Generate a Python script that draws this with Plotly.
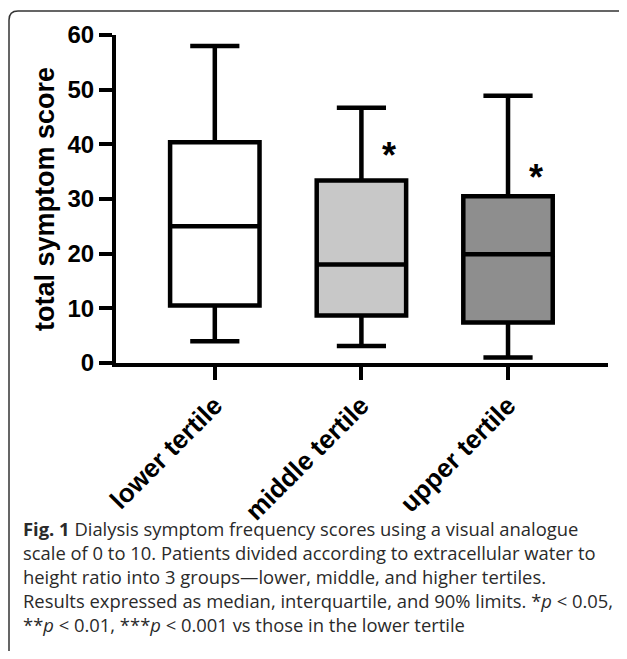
import plotly.graph_objects as go

# ---- data ----
categories = ["lower tertile", "middle tertile", "upper tertile"]
lower_fence = [4.0, 3.1, 1.0]
q1_vals = [10.5, 8.7, 7.4]
median_vals = [25.0, 18.0, 19.9]
q3_vals = [40.4, 33.4, 30.5]
upper_fence = [58.0, 46.7, 48.9]
fill_colors = ["#ffffff", "#c8c8c8", "#8e8e8e"]
sig_marks = ["", "*", "*"]
sig_y = [None, 39.6, 35.6]
y_ticks = [0, 10, 20, 30, 40, 50, 60]

caption_lines = [
    "<b>Fig. 1</b> Dialysis symptom frequency scores using a visual analogue",
    "scale of 0 to 10. Patients divided according to extracellular water to",
    "height ratio into 3 groups\u2014lower, middle, and higher tertiles.",
    "Results expressed as median, interquartile, and 90% limits. *<i>p</i> &lt; 0.05,",
    "**<i>p</i> &lt; 0.01, ***<i>p</i> &lt; 0.001 vs those in the lower tertile",
]

# page body has an 8px margin; the figure is laid out in window pixels minus it
OFF = 8
W, H = 627 - 2 * OFF, 659 - 2 * OFF
PLOT_L, PLOT_R, PLOT_T, PLOT_B = 116, 608, 35, 363   # window pixels
ML, MT = PLOT_L - OFF, PLOT_T - OFF
MR = W - (PLOT_R - OFF)
MB = H - (PLOT_B - OFF)
PW = W - ML - MR
PH = H - MT - MB


def px(x):
    return (x - OFF - ML) / PW


def py(y):
    return (H - MB - (y - OFF)) / PH


fig = go.Figure()
for i, cat in enumerate(categories):
    fig.add_trace(go.Box(
        x=[cat],
        q1=[q1_vals[i]], median=[median_vals[i]], q3=[q3_vals[i]],
        lowerfence=[lower_fence[i]], upperfence=[upper_fence[i]],
        fillcolor=fill_colors[i],
        line=dict(color="black", width=4.5),
        width=0.61,
        whiskerwidth=0.55,
        boxpoints=False,
        showlegend=False,
        hoverinfo="skip",
    ))

for i, m in enumerate(sig_marks):
    if m:
        fig.add_annotation(
            x=i + 0.19, y=sig_y[i], xref="x", yref="y", text=m,
            showarrow=False, yshift=-9,
            font=dict(family="Liberation Sans", size=36, color="black", weight="bold"),
        )

bold_font = dict(family="Liberation Sans", color="black", weight="bold")

fig.update_xaxes(
    type="category", categoryorder="array", categoryarray=categories,
    range=[-0.674, 2.682],
    showline=True, linewidth=4, linecolor="black",
    ticks="outside", ticklen=13, tickwidth=4, tickcolor="black",
    tickangle=-45, tickfont=dict(size=26, **bold_font),
    showgrid=False, zeroline=False,
)
fig.update_yaxes(
    range=[0, 60], tickvals=y_ticks,
    showline=True, linewidth=4, linecolor="black",
    ticks="outside", ticklen=13, tickwidth=4, tickcolor="black",
    tickfont=dict(size=24, **bold_font),
    showgrid=False, zeroline=False,
    title=dict(text="total symptom score", font=dict(size=27, **bold_font), standoff=6),
)

for k, line in enumerate(caption_lines):
    fig.add_annotation(
        x=px(21), y=py(528 + 24 * k), xref="paper", yref="paper",
        xanchor="left", yanchor="middle", text=line, showarrow=False,
        font=dict(family="Open Sans", size=18.4, color="#2a2a2a"),
    )

# rounded frame (window pixels)
x0, y0, x1, y1, r = 9, 11, 633, 665, 9
path = (
    f"M {px(x0)},{py(y1 - r)} L {px(x0)},{py(y0 + r)} "
    f"Q {px(x0)},{py(y0)} {px(x0 + r)},{py(y0)} "
    f"L {px(x1 - r)},{py(y0)} Q {px(x1)},{py(y0)} {px(x1)},{py(y0 + r)} "
    f"L {px(x1)},{py(y1 - r)} Q {px(x1)},{py(y1)} {px(x1 - r)},{py(y1)} "
    f"L {px(x0 + r)},{py(y1)} Q {px(x0)},{py(y1)} {px(x0)},{py(y1 - r)} Z"
)
fig.add_shape(type="path", path=path, xref="paper", yref="paper",
              line=dict(color="#333333", width=1.5), layer="above")

fig.update_layout(
    width=W, height=H,
    margin=dict(l=ML, r=MR, t=MT, b=MB, pad=0),
    paper_bgcolor="white", plot_bgcolor="white",
    boxmode="overlay",
)

fig.write_html("out.html")
